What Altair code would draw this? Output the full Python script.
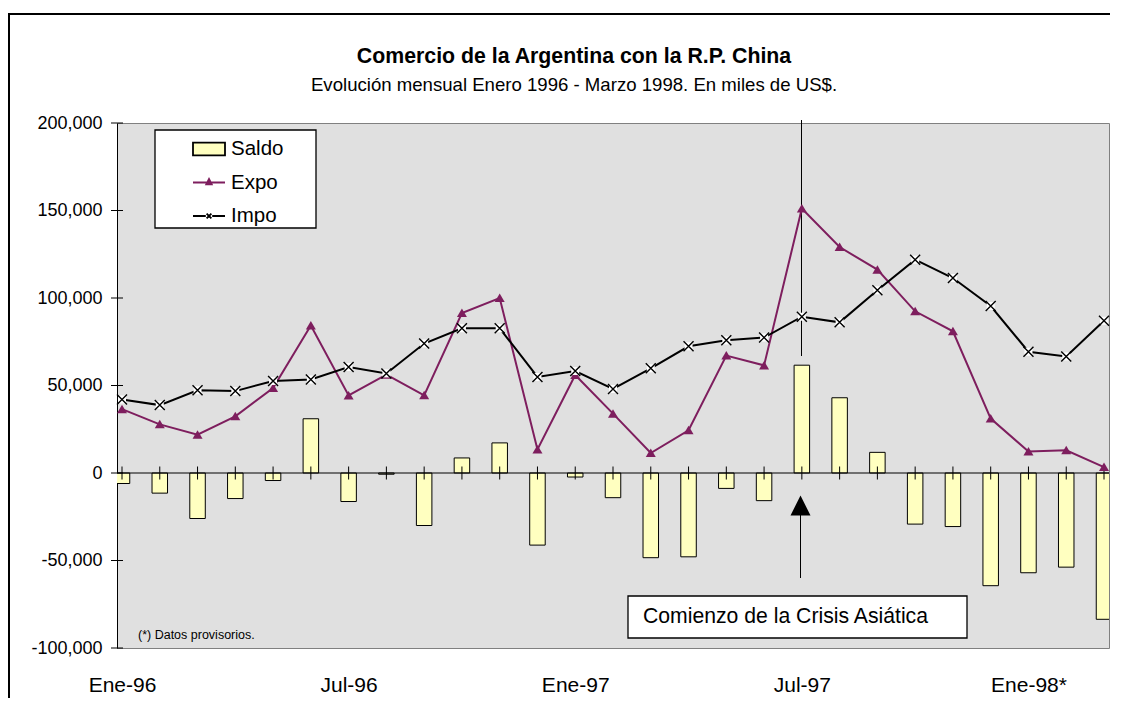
import altair as alt
import pandas as pd

# ---------------- data (miles de US$) ----------------
meses = ["Ene-96", "Feb-96", "Mar-96", "Abr-96", "May-96", "Jun-96",
         "Jul-96", "Ago-96", "Sep-96", "Oct-96", "Nov-96", "Dic-96",
         "Ene-97", "Feb-97", "Mar-97", "Abr-97", "May-97", "Jun-97",
         "Jul-97", "Ago-97", "Sep-97", "Oct-97", "Nov-97", "Dic-97",
         "Ene-98*", "Feb-98*", "Mar-98*"]
expo = [36500, 27800, 21900, 32400, 48600, 84300, 44300, 56200, 44400,
        91400, 100000, 13500, 56000, 33900, 11400, 24400, 67100, 61500,
        151100, 129100, 116200, 92400, 81000, 31100, 12300, 13000, 3400]
impo = [42000, 38800, 47300, 46800, 52600, 53400, 60600, 56900, 74000,
        82700, 82700, 54900, 58300, 48000, 59800, 72400, 75800, 77400,
        89300, 86100, 104400, 121900, 111400, 95400, 69300, 66600, 87000]
saldo = [-6000, -11500, -26000, -14600, -4300, 31000, -16300, -700, -30000,
         8600, 17200, -41200, -2300, -14100, -48400, -47900, -8800, -15800,
         61600, 43000, 11800, -29200, -30600, -64400, -57000, -53800, -83600]
series = ["Saldo", "Expo", "Impo"]
x_tick_idx = [0, 6, 12, 18, 24]
y_ticks = [-100000, -50000, 0, 50000, 100000, 150000, 200000]

titulo = "Comercio de la Argentina con la R.P. China"
subtitulo = "Evolución mensual Enero 1996 - Marzo 1998. En miles de US$."
nota = "(*) Datos provisorios."
crisis = "Comienzo de la Crisis Asiática"

# ---------------- tables ----------------
df = pd.DataFrame({"idx": list(range(len(meses))), "mes": meses,
                   "Saldo": saldo, "Expo": expo, "Impo": impo})
long = df.melt(id_vars=["idx", "mes"], value_vars=["Expo", "Impo"],
               var_name="serie", value_name="valor")
yt = pd.DataFrame({"v": y_ticks})
one = pd.DataFrame({"a": [0]})
leg_df = pd.DataFrame({"serie": series})

# ---------------- style ----------------
F = "Liberation Sans"
PURPLE = "#7E1E5E"
YELLOW = "#FFFFC0"
W, H = 992, 525
PAD = {"left": 109, "top": 115, "right": 4, "bottom": 50}

label_arr = "[" + ",".join("'" + m + "'" for m in meses) + "]"
xs = alt.Scale(domain=[0, len(meses) - 1], nice=False, zero=False)
xaxis = alt.Axis(values=x_tick_idx, labelExpr=label_arr + "[datum.value]",
                 title=None, domain=False, ticks=False, grid=False,
                 labelFontSize=21, labelFont=F, labelColor="black",
                 labelPadding=26, labelFlush=False, labelOverlap=False)
ys = alt.Scale(domain=[-100000, 200000], nice=False, zero=False)
yaxis = alt.Axis(values=y_ticks, labelExpr="replace(format(datum.value, ','), '\u2212', '-')",
                 title=None, grid=False, ticks=False, domain=True,
                 domainColor="black", domainWidth=1,
                 labelFontSize=18, labelFont=F, labelColor="black",
                 labelPadding=15)

def X(field="idx:Q"):
    return alt.X(field, scale=xs, axis=xaxis)

def Y(field):
    return alt.Y(field, scale=ys, axis=yaxis)

# ---------------- layers ----------------
# outer frame: only its left and top edges fall inside the picture
frame_top = alt.Chart(one).mark_rect(color="black").encode(
    x=alt.value(-109), x2=alt.value(W + 1), y=alt.value(-110), y2=alt.value(-108))
frame_left = alt.Chart(one).mark_rect(color="black").encode(
    x=alt.value(-109), x2=alt.value(-107), y=alt.value(-110), y2=alt.value(H + PAD["bottom"]))

title_t = alt.Chart(one).mark_text(font=F, fontSize=21.3, fontWeight="bold", color="black",
                                   align="center", baseline="middle").encode(
    x=alt.value(457), y=alt.value(-66), text=alt.value(titulo))
subtitle_t = alt.Chart(one).mark_text(font=F, fontSize=18.6, color="black",
                                      align="center", baseline="middle").encode(
    x=alt.value(457), y=alt.value(-38), text=alt.value(subtitulo))

bars = alt.Chart(df).mark_bar(size=15.5, fill=YELLOW, stroke="black", strokeWidth=1,
                              clip=True).encode(
    x=X(), y=Y("Saldo:Q"), y2=alt.datum(0))

zero_rule = alt.Chart(one).mark_rule(color="black", strokeWidth=1).encode(y=Y("a:Q"))

zero_ticks = alt.Chart(df).mark_tick(orient="vertical", size=13, thickness=1,
                                     color="black", opacity=1).encode(
    x=X(), y=alt.datum(0))

y_cross = alt.Chart(yt).mark_tick(orient="horizontal", size=12, thickness=1,
                                  color="black", opacity=1).encode(
    x=alt.value(0), y=Y("v:Q"))

vline = alt.Chart(one).mark_rule(color="black", strokeWidth=1).encode(
    x=alt.value(684.5), y=alt.value(-3), y2=alt.value(233))

lines = alt.Chart(long).mark_line(strokeWidth=2).encode(
    x=X(), y=Y("valor:Q"),
    color=alt.Color("serie:N", scale=alt.Scale(domain=["Expo", "Impo"],
                                               range=[PURPLE, "black"]), legend=None))

tri = "M0,-0.9L1,0.8L-1,0.8Z"
xpath = "M-1,-1L1,1M-1,1L1,-1"
expo_pts = alt.Chart(df).mark_point(shape=tri, filled=True, size=100, color=PURPLE,
                                    opacity=1).encode(x=X(), y=Y("Expo:Q"))
impo_bg = alt.Chart(df).mark_point(shape="square", filled=True, size=64, color="white",
                                   opacity=1).encode(x=X(), y=Y("Impo:Q"))
impo_x = alt.Chart(df).mark_point(shape=xpath, filled=False, size=100, color="black",
                                  strokeWidth=1.4, opacity=1).encode(x=X(), y=Y("Impo:Q"))

legend_box = alt.Chart(one).mark_rect(fill="white", stroke="black", strokeWidth=1.3).encode(
    x=alt.value(38), x2=alt.value(199), y=alt.value(7), y2=alt.value(105))

sym_saldo = "M-1,-0.4H1V0.4H-1Z"
sym_expo = "M-1,0H1M0,-0.22L0.17,0.12L-0.17,0.12Z"
sym_impo = "M-1,0H-0.2M0.2,0H1M-0.15,-0.15L0.15,0.15M-0.15,0.15L0.15,-0.15"
LEG = alt.Legend(title=None, orient="none", legendX=75, legendY=9,
                 symbolSize=1024, symbolStrokeWidth=1.8, labelFont=F,
                 labelFontSize=20.5, labelColor="black", labelOffset=5,
                 rowPadding=5.5, padding=0, symbolOffset=0)
legend_layer = alt.Chart(leg_df).transform_filter("false").mark_point(
    filled=True, opacity=1).encode(
    x=alt.value(0), y=alt.value(0),
    fill=alt.Fill("serie:N", scale=alt.Scale(domain=series, range=[YELLOW, PURPLE, "white"]),
                  legend=LEG),
    stroke=alt.Stroke("serie:N", scale=alt.Scale(domain=series, range=["black", PURPLE, "black"]),
                      legend=LEG),
    shape=alt.Shape("serie:N", scale=alt.Scale(domain=series, range=[sym_saldo, sym_expo, sym_impo]),
                    legend=LEG))

note_t = alt.Chart(one).mark_text(font=F, fontSize=12.5, color="black", align="left",
                                  baseline="middle").encode(
    x=alt.value(21), y=alt.value(512), text=alt.value(nota))

crisis_box = alt.Chart(one).mark_rect(fill="white", stroke="black", strokeWidth=1.3).encode(
    x=alt.value(511), x2=alt.value(850), y=alt.value(473), y2=alt.value(515))
crisis_t = alt.Chart(one).mark_text(font=F, fontSize=21.2, color="black", align="left",
                                    baseline="middle").encode(
    x=alt.value(526), y=alt.value(494), text=alt.value(crisis))
arrow_rule = alt.Chart(one).mark_rule(color="black", strokeWidth=1).encode(
    x=alt.value(683.5), y=alt.value(390), y2=alt.value(455))
arrow_head = alt.Chart(one).mark_point(shape="M0,-1L1,1L-1,1Z", filled=True, size=400,
                                       color="black", opacity=1).encode(
    x=alt.value(683.5), y=alt.value(382.5))

chart = alt.layer(
    frame_top, frame_left, title_t, subtitle_t, bars, zero_rule, zero_ticks, y_cross, vline,
    lines, expo_pts, impo_bg, impo_x, legend_box, legend_layer,
    note_t, crisis_box, crisis_t, arrow_rule, arrow_head
).resolve_scale(color="independent").properties(
    width=W, height=H,
    autosize=alt.AutoSizeParams(type="none"),
    padding=PAD,
).configure_view(fill="#E0E0E0", stroke="#808080", strokeWidth=1)

chart.save("out.html", embed_options={"renderer": "svg", "actions": False})
